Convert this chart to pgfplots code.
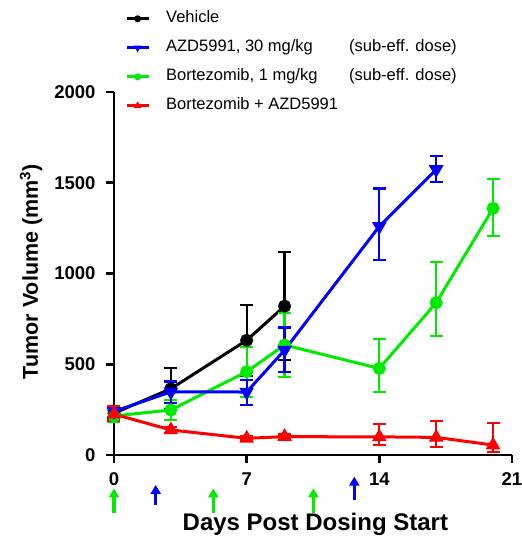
\documentclass[border=0pt]{standalone}
\usepackage{fontspec}
\setmainfont{Liberation Sans}
\usepackage{pgfplots}
\pgfplotsset{compat=1.18}
\usetikzlibrary{arrows.meta}

\definecolor{cBlue}{RGB}{0,0,255}
\definecolor{cGreen}{RGB}{0,235,0}
\definecolor{cRed}{RGB}{255,0,0}

% day, mean, error up, error down
\pgfplotstableread{
x y ep em
0 230 30 30
3 365 113 113
7 632 195 195
9 820 298 298
}\vehicle
\pgfplotstableread{
x y ep em
0 240 30 30
3 348 57 63
7 347 65 70
9 578 125 120
14 1260 208 185
17 1573 75 70
}\azd
\pgfplotstableread{
x y ep em
0 215 35 35
3 248 55 55
7 459 138 138
9 606 175 175
14 477 160 128
17 839 226 183
20 1359 161 151
}\bort
\pgfplotstableread{
x y ep em
0 225 45 35
3 138 15 15
7 92 12 12
9 101 12 12
14 100 71 45
17 97 92 51
20 55 123 37
}\combo
% dosing arrows: x, y (tail), u, v
\pgfplotstableread{
x y u v
0 -321 0 137
5.24 -321 0 137
10.52 -321 0 137
}\greenarrows
\pgfplotstableread{
x y u v
2.2 -275 0 110
12.68 -248 0 129
}\bluearrows

\begin{document}
\begin{tikzpicture}
\useasboundingbox (-114pt,-81pt) rectangle (408pt,455pt);
\begin{axis}[
    at={(0,0)}, anchor=south west,
    scale only axis,
    width=398pt, height=363pt,
    xmin=0, xmax=21, ymin=0, ymax=2000,
    xtick={0,7,14,21}, ytick={0,500,1000,1500,2000},
    axis x line=bottom, axis y line=left,
    axis line style={-, line width=2.6pt},
    tick style={line width=2.6pt, black},
    tick align=outside, major tick length=8pt,
    clip=false,
    /pgf/number format/assume math mode=true,
    /pgf/number format/1000 sep={},
    ticklabel style={font=\bfseries\fontsize{18.5}{18.5}\selectfont},
    xticklabel style={yshift=-6pt},
    yticklabel style={xshift=-7pt},
    xlabel={Days Post Dosing Start},
    ylabel={Tumor Volume (mm\textsuperscript{3})},
    every axis x label/.style={at={([yshift=-75pt]rel axis cs:0.506,0)}, anchor=base,
        font=\bfseries\fontsize{24}{24}\selectfont},
    every axis y label/.style={at={([xshift=-76pt]rel axis cs:0,0.505)}, anchor=base,
        rotate=90, font=\bfseries\fontsize{21.5}{21.5}\selectfont},
    legend style={draw=none, fill=none, at={(rel axis cs:0.02,1.238)}, anchor=north west,
        font=\fontsize{16.5}{16.5}\selectfont, row sep=7pt,
        nodes={text height=12pt, text depth=4pt, inner sep=3pt}},
    legend cell align=left,
    legend image code/.code={\draw[mark repeat=2,mark phase=2,#1] plot coordinates {(0pt,0pt) (11pt,0pt) (22pt,0pt)};
        \path (35pt,0pt);},
    every axis plot/.append style={line width=3pt},
    error bars/error bar style={line width=2.2pt},
    error bars/error mark options={rotate=90, mark size=6.5pt, line width=2.2pt},
]
\addlegendimage{black, mark=*, mark size=3pt, mark options={line width=1pt}}
\addlegendentry{Vehicle}
\addlegendimage{cBlue, mark=triangle*, mark size=3.5pt, mark options={rotate=180, line width=1pt}}
\addlegendentry{\makebox[183pt][l]{AZD5991, 30 mg/kg}(sub-eff. dose)}
\addlegendimage{cGreen, mark=*, mark size=3pt, mark options={line width=1pt}}
\addlegendentry{\makebox[183pt][l]{Bortezomib, 1 mg/kg}(sub-eff. dose)}
\addlegendimage{cRed, mark=triangle*, mark size=3.5pt, mark options={line width=1pt}}
\addlegendentry{Bortezomib + AZD5991}

\addplot[black, mark=*, mark size=5pt, forget plot,
    error bars/.cd, y dir=both, y explicit]
    table[y error plus=ep, y error minus=em] {\vehicle};
\addplot[cGreen, mark=*, mark size=5pt, forget plot,
    error bars/.cd, y dir=both, y explicit]
    table[y error plus=ep, y error minus=em] {\bort};
\addplot[cBlue, mark=triangle*, mark size=5.5pt, mark options={rotate=180}, forget plot,
    error bars/.cd, y dir=both, y explicit]
    table[y error plus=ep, y error minus=em] {\azd};
\addplot[cRed, mark=triangle*, mark size=5.5pt, forget plot,
    error bars/.cd, y dir=both, y explicit]
    table[y error plus=ep, y error minus=em] {\combo};

\addplot[cGreen, line width=3.5pt, no markers, forget plot,
    quiver={u=\thisrow{u}, v=\thisrow{v}}, -{Triangle[width=10pt,length=9pt]}]
    table {\greenarrows};
\addplot[cBlue, line width=3.5pt, no markers, forget plot,
    quiver={u=\thisrow{u}, v=\thisrow{v}}, -{Triangle[width=10pt,length=9pt]}]
    table {\bluearrows};
\end{axis}
\end{tikzpicture}
\end{document}
